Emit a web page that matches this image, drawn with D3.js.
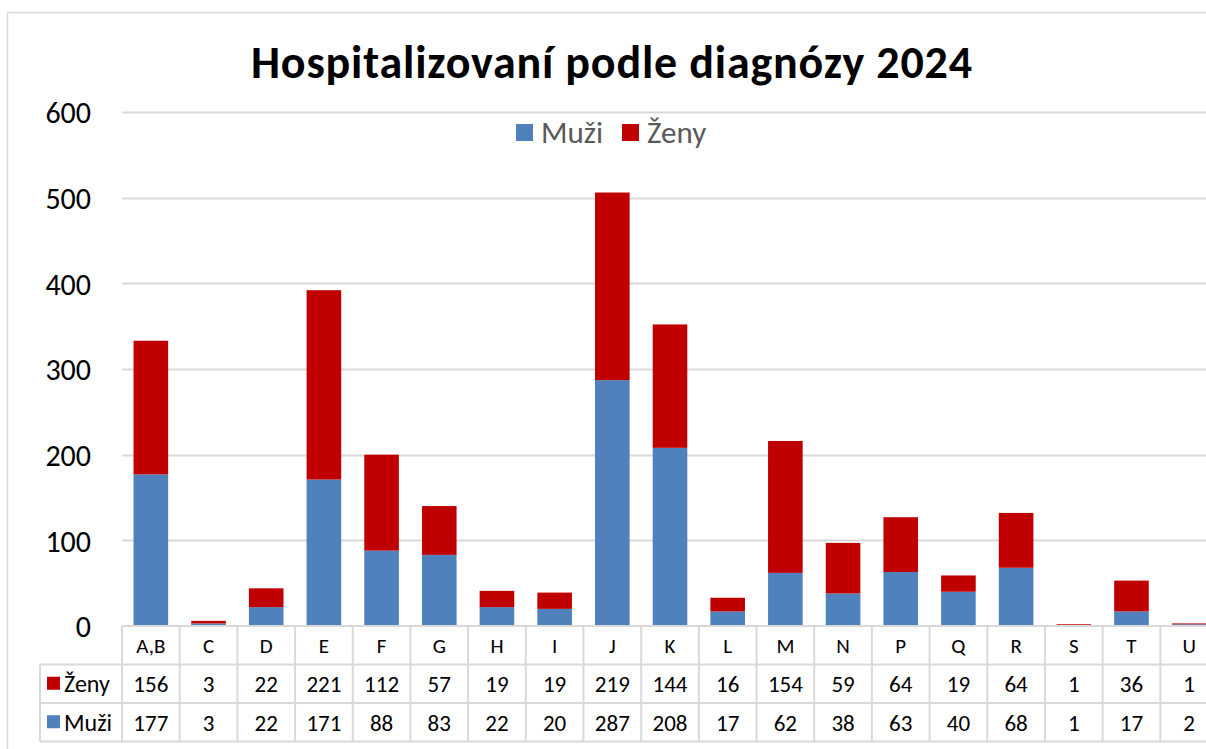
<!DOCTYPE html>
<html>
<head>
<meta charset="utf-8">
<script src="https://cdn.jsdelivr.net/npm/d3@7"></script>
<style>
  body { margin: 0; background: #fff; }
  svg { display: block; font-family: Carlito, Calibri, Lato, sans-serif; }
</style>
</head>
<body>
<div id="chart"></div>
<script>
// Chart data
const categories = ["A,B", "C", "D", "E", "F", "G", "H", "I", "J", "K", "L", "M", "N", "P", "Q", "R", "S", "T", "U"];
const muzi = [177, 3, 22, 171, 88, 83, 22, 20, 287, 208, 17, 62, 38, 63, 40, 68, 1, 17, 2];
const zeny = [156, 3, 22, 221, 112, 57, 19, 19, 219, 144, 16, 154, 59, 64, 19, 64, 1, 36, 1];
const yTicks = [0, 100, 200, 300, 400, 500, 600];
const seriesNames = ["Muži", "Ženy"];
const title = "Hospitalizovaní podle diagnózy 2024";

const width = 1206, height = 749;
const colors = { "Muži": "#4f81bd", "Ženy": "#c00000" };
const gridColor = "#d9d9d9";

const plot = { left: 122, right: 1218, top: 112, bottom: 626 };
const rowH = 38.5;
const tableLeft = 40;

const svg = d3.select("#chart").append("svg")
    .attr("width", width)
    .attr("height", height);

svg.append("rect").attr("width", width).attr("height", height).attr("fill", "#fff");

// Chart frame (cropped on right/bottom like the source)
svg.append("path")
    .attr("d", `M7.5,${height} V12.5 H${width}`)
    .attr("fill", "none")
    .attr("stroke", gridColor)
    .attr("stroke-width", 1.5);

// Scales
const x = d3.scaleBand()
    .domain(categories)
    .range([plot.left, plot.right])
    .paddingInner(0.4)
    .paddingOuter(0.2);

const y = d3.scaleLinear()
    .domain([0, 600])
    .range([plot.bottom, plot.top]);

// Gridlines
svg.append("g")
    .selectAll("line")
    .data(yTicks.filter(d => d > 0))
    .join("line")
    .attr("x1", plot.left)
    .attr("x2", width)
    .attr("y1", d => Math.round(y(d)) + 0.5)
    .attr("y2", d => Math.round(y(d)) + 0.5)
    .attr("stroke", gridColor)
    .attr("stroke-width", 2);

// Y axis labels
const yAxis = svg.append("g")
    .attr("transform", `translate(${plot.left - 31},0)`)
    .call(d3.axisLeft(y).tickValues(yTicks).tickSize(0).tickPadding(0));
yAxis.select(".domain").remove();
yAxis.selectAll("text")
    .attr("font-size", 30)
    .attr("font-family", "Carlito, Calibri, Lato, sans-serif")
    .attr("fill", "#000")
    .attr("dy", "0.36em");

// Stacked bars
const rows = categories.map((c, i) => ({ cat: c, "Muži": muzi[i], "Ženy": zeny[i] }));
const stacked = d3.stack().keys(seriesNames)(rows);

svg.append("g")
    .selectAll("g")
    .data(stacked)
    .join("g")
    .attr("fill", d => colors[d.key])
    .selectAll("rect")
    .data(d => d)
    .join("rect")
    .attr("x", d => x(d.data.cat))
    .attr("y", d => y(d[1]))
    .attr("width", x.bandwidth())
    .attr("height", d => y(d[0]) - y(d[1]));

// Data table
const table = svg.append("g");
const step = x.step();
const colEdges = categories.map(c => x(c) - (step - x.bandwidth()) / 2);
colEdges.push(colEdges[colEdges.length - 1] + step);

// horizontal lines
const hLines = [
    { y: plot.bottom, x1: plot.left },
    { y: plot.bottom + rowH, x1: tableLeft },
    { y: plot.bottom + rowH * 2, x1: tableLeft },
    { y: plot.bottom + rowH * 3, x1: tableLeft }
];
table.selectAll("line.h")
    .data(hLines)
    .join("line")
    .attr("class", "h")
    .attr("x1", d => d.x1)
    .attr("x2", width)
    .attr("y1", d => d.y)
    .attr("y2", d => d.y)
    .attr("stroke", gridColor)
    .attr("stroke-width", 2);

// vertical lines
table.selectAll("line.v")
    .data(colEdges)
    .join("line")
    .attr("class", "v")
    .attr("x1", d => d)
    .attr("x2", d => d)
    .attr("y1", plot.bottom)
    .attr("y2", plot.bottom + rowH * 3)
    .attr("stroke", gridColor)
    .attr("stroke-width", 2);
table.append("line")
    .attr("x1", tableLeft).attr("x2", tableLeft)
    .attr("y1", plot.bottom + rowH).attr("y2", plot.bottom + rowH * 3)
    .attr("stroke", gridColor).attr("stroke-width", 2);

// category header
table.selectAll("text.cat")
    .data(categories)
    .join("text")
    .attr("class", "cat")
    .attr("x", d => x(d) + x.bandwidth() / 2)
    .attr("y", plot.bottom + rowH / 2)
    .attr("dy", "0.35em")
    .attr("text-anchor", "middle")
    .attr("font-size", 21)
    .attr("fill", "#000")
    .text(d => d);

// value rows: Ženy then Muži
const tableRows = [
    { name: "Ženy", values: zeny },
    { name: "Muži", values: muzi }
];
tableRows.forEach((row, r) => {
    const cy = plot.bottom + rowH * (r + 1) + rowH / 2;
    table.append("rect")
        .attr("x", 47).attr("y", cy - 7)
        .attr("width", 13).attr("height", 13)
        .attr("fill", colors[row.name]);
    table.append("text")
        .attr("x", 64).attr("y", cy)
        .attr("dy", "0.36em")
        .attr("font-size", 24)
        .attr("fill", "#000")
        .text(row.name);
    table.selectAll(null)
        .data(row.values)
        .join("text")
        .attr("x", (d, i) => x(categories[i]) + x.bandwidth() / 2)
        .attr("y", cy)
        .attr("dy", "0.36em")
        .attr("text-anchor", "middle")
        .attr("font-size", 23)
        .attr("fill", "#000")
        .text(d => d);
});

// Title
svg.append("text")
    .attr("x", 251)
    .attr("y", 78)
    .attr("font-size", 46)
    .attr("font-weight", "bold")
    .attr("fill", "#000")
    .attr("textLength", 721)
    .attr("lengthAdjust", "spacing")
    .text(title);

// Legend
const legendX = [516, 622];
const legend = svg.append("g").attr("transform", "translate(0,132)");
const legendItems = legend.selectAll("g")
    .data(seriesNames)
    .join("g")
    .attr("transform", (d, i) => `translate(${legendX[i]},0)`);
legendItems.append("rect")
    .attr("x", 0).attr("y", -8)
    .attr("width", 17).attr("height", 17)
    .attr("fill", d => colors[d]);
legendItems.append("text")
    .attr("x", 25).attr("y", 0)
    .attr("dy", "0.36em")
    .attr("font-size", 31)
    .attr("fill", "#595959")
    .text(d => d);
</script>
</body>
</html>
